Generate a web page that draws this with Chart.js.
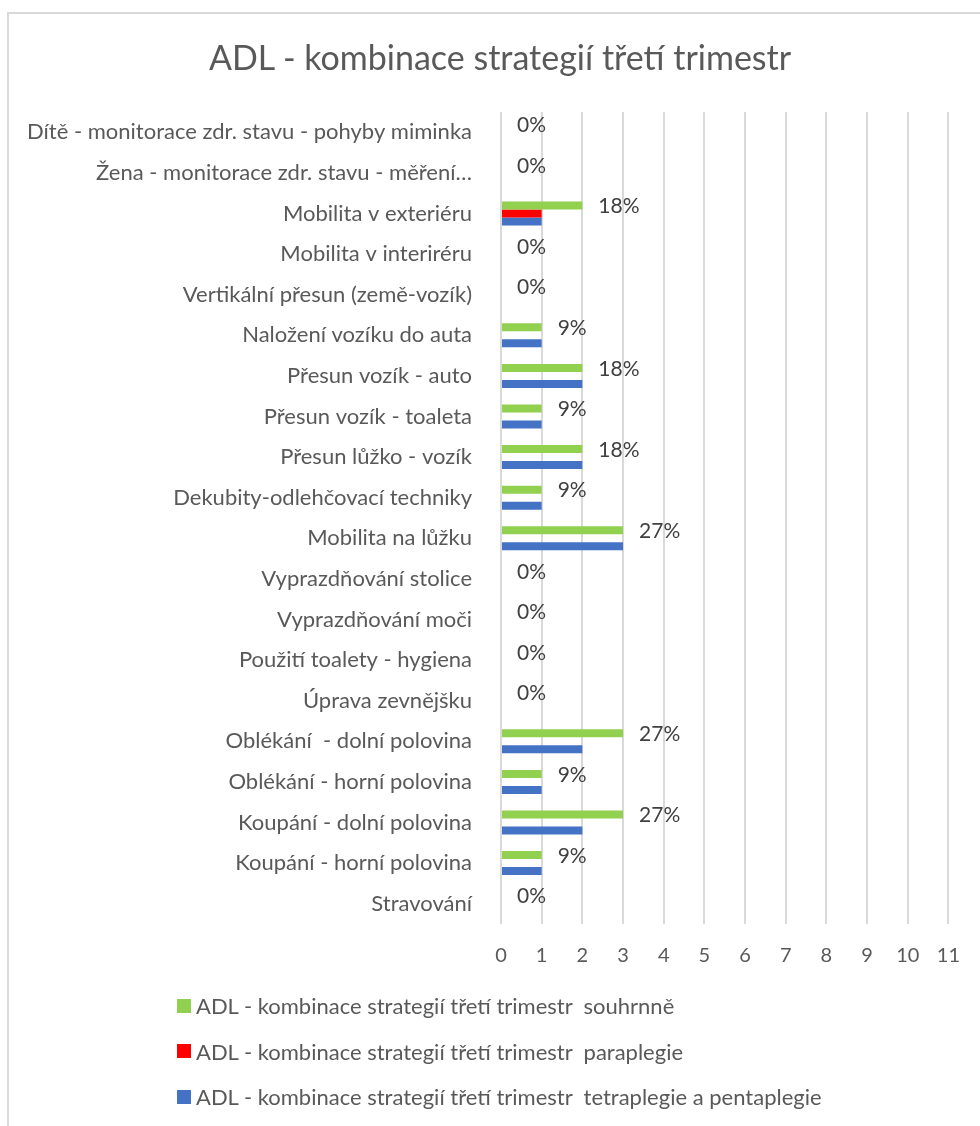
<!DOCTYPE html>
<html>
<head>
<meta charset="utf-8">
<title>ADL - kombinace strategií třetí trimestr</title>
<script src="https://cdn.jsdelivr.net/npm/chart.js@4.4.1/dist/chart.umd.min.js"></script>
<style>
    body { margin: 0; background: #fff; }
    #wrap { position: relative; width: 980px; height: 1126px; overflow: hidden; }
    #frame { position: absolute; left: 7px; top: 12px; width: 1000px; height: 1200px; border-left: 2px solid #d9d9d9; border-top: 2px solid #d9d9d9; }
    #chart { position: absolute; left: 0; top: 0; }
    #title { position: absolute; left: 0; top: 37px; width: 1000px; text-align: center; line-height: 40px; font-family: Lato, sans-serif; font-size: 34px; color: #595959; }
    #legend { position: absolute; left: 177px; top: 983px; font-family: Lato, sans-serif; font-size: 22px; color: #595959; }
    .item { display: flex; align-items: center; height: 45.5px; white-space: pre; }
    .box { width: 14px; height: 14px; margin-right: 5px; }
</style>
</head>
<body>
<div id="wrap">
    <div id="frame"></div>
    <canvas id="chart" width="980" height="1126"></canvas>
    <div id="title">ADL - kombinace strategií třetí trimestr</div>
    <div id="legend"></div>
</div>
<script>
const categories = [
    "Dítě - monitorace zdr. stavu - pohyby miminka",
    "Žena - monitorace zdr. stavu - měření…",
    "Mobilita v exteriéru",
    "Mobilita v interiréru",
    "Vertikální přesun (země-vozík)",
    "Naložení vozíku do auta",
    "Přesun vozík - auto",
    "Přesun vozík - toaleta",
    "Přesun lůžko - vozík",
    "Dekubity-odlehčovací techniky",
    "Mobilita na lůžku",
    "Vyprazdňování stolice",
    "Vyprazdňování moči",
    "Použití toalety - hygiena",
    "Úprava zevnějšku",
    "Oblékání  - dolní polovina",
    "Oblékání - horní polovina",
    "Koupání - dolní polovina",
    "Koupání - horní polovina",
    "Stravování"
];
const souhrnne    = [0, 0, 2, 0, 0, 1, 2, 1, 2, 1, 3, 0, 0, 0, 0, 3, 1, 3, 1, 0];
const paraplegie  = [0, 0, 1, 0, 0, 0, 0, 0, 0, 0, 0, 0, 0, 0, 0, 0, 0, 0, 0, 0];
const tetraplegie = [0, 0, 1, 0, 0, 1, 2, 1, 2, 1, 3, 0, 0, 0, 0, 2, 1, 2, 1, 0];
const respondents = 11; // x axis runs 0..11, percentages are out of this
const seriesNames = [
    "ADL - kombinace strategií třetí trimestr  souhrnně",
    "ADL - kombinace strategií třetí trimestr  paraplegie",
    "ADL - kombinace strategií třetí trimestr  tetraplegie a pentaplegie"
];
const seriesColors = ["#92d050", "#ff0000", "#4472c4"];

// percentage text right of each green bar
const pctLabels = {
    id: "pctLabels",
    afterDatasetsDraw(chart) {
        const ctx = chart.ctx;
        const meta = chart.getDatasetMeta(0);
        ctx.save();
        ctx.font = "21px Lato";
        ctx.fillStyle = "#404040";
        ctx.textBaseline = "middle";
        ctx.textAlign = "left";
        meta.data.forEach((bar, i) => {
            const pct = Math.round(souhrnne[i] / respondents * 100) + "%";
            ctx.fillText(pct, bar.x + 16, bar.y + 1);
        });
        ctx.restore();
    }
};

new Chart(document.getElementById("chart"), {
    type: "bar",
    data: {
        labels: categories,
        datasets: [souhrnne, paraplegie, tetraplegie].map((d, i) => ({
            label: seriesNames[i],
            data: d,
            backgroundColor: seriesColors[i],
            categoryPercentage: 0.59,
            barPercentage: 1
        }))
    },
    options: {
        indexAxis: "y",
        responsive: false,
        animation: false,
        layout: { padding: { left: 0, right: 28, top: 112, bottom: 152 } },
        plugins: {
            legend: { display: false },
            tooltip: { enabled: false },
            title: { display: false }
        },
        scales: {
            x: {
                position: "bottom",
                min: 0,
                max: respondents,
                ticks: { stepSize: 1, color: "#595959", font: { family: "Lato", size: 20 }, padding: 20 },
                grid: { color: "#d9d9d9", lineWidth: 2, drawTicks: false },
                border: { display: false },
                afterFit(scale) { scale.height = 50; }
            },
            y: {
                ticks: { autoSkip: false, color: "#595959", font: { family: "Lato", size: 22 }, padding: 29 },
                grid: { display: false, drawTicks: false },
                border: { display: false },
                afterFit(scale) { scale.width = 501; }
            }
        }
    },
    plugins: [pctLabels]
});

var legend = document.getElementById("legend");
seriesNames.forEach(function (name, i) {
    var row = document.createElement("div");
    row.className = "item";
    row.innerHTML = '<span class="box" style="background:' + seriesColors[i] + '"></span><span>' + name + "</span>";
    legend.appendChild(row);
});
</script>
</body>
</html>
